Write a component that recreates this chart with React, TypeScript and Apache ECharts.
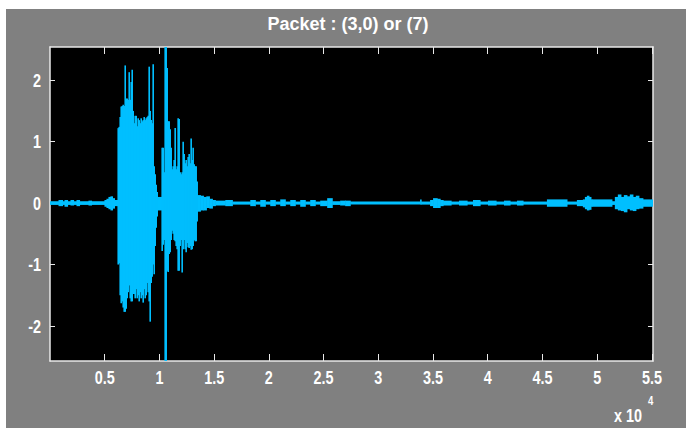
import React, { useEffect, useRef } from "react";
import * as echarts from "echarts";

// Envelope of the waveform: each bin starts at binStart[i] (sample index) and runs to the next bin start.
const binStart = [
  // lead-in noise
  0, 776, 1141, 1323, 1597, 1871, 2145, 2419, 2692, 3514,
  3788, 4974, 5157, 5339, 5522, 5704, 5887,
  // first burst
  6161, 6252, 6343, 6435, 6526, 6617, 6709, 6800, 6891, 6982,
  7074, 7165, 7256, 7348, 7439, 7530, 7622, 7713, 7804, 7896,
  7987, 8078, 8169, 8261, 8352, 8443, 8535, 8626, 8717, 8809,
  8900, 8991, 9083, 9174, 9265, 9356, 9448, 9539, 9630, 9722,
  9813,
  // second burst
  10178, 10270, 10361, 10452, 10544, 10635, 10726, 10818, 10909, 11000,
  11091, 11183, 11274, 11365, 11457, 11548, 11639, 11731, 11822, 11913,
  12005, 12096, 12187, 12278, 12370, 12461, 12552, 12644, 12735, 12826,
  12918, 13009, 13100, 13192, 13283, 13374, 13466,
  // tail noise
  13736, 14010, 14284, 14558, 14832, 15105, 16018, 16657, 18300, 18756,
  19212, 19669, 20125, 20582, 21038, 21494, 21951, 22407, 22863, 23320,
  23776, 24232, 24689, 25328, 25784, 26514, 26971, 27427, 33816, 33907,
  34729, 35003, 35368, 35642, 35915, 36645, 37375, 38105, 38653, 39292,
  40022, 40752, 41482, 42030, 42669, 43216, 45407, 47232,
  48145, 48692, 48875, 49057, 49240, 49423, 49514, 51339, 51613, 51887,
  52161, 52435, 52709, 52982, 53256, 53530, 53804, 54168,
];
const upperEnv = [
  0.03, 0.05, 0.03, 0.05, 0.03, 0.05, 0.03, 0.05, 0.03, 0.04,
  0.03, 0.05, 0.07, 0.10, 0.11, 0.08, 0.05,
  1.22, 1.24, 1.40, 1.57, 1.58, 1.60, 1.58, 2.24, 1.70, 1.70,
  1.68, 2.13, 1.68, 1.97, 2.17, 1.50, 1.30, 1.42, 1.42, 1.25,
  1.38, 1.35, 1.30, 1.38, 1.33, 1.35, 1.40, 1.35, 1.38, 1.40,
  1.42, 2.22, 1.50, 1.35, 1.30, 2.26, 0.60, 0.47, 0.30, 0.18,
  0.10,
  0.90, 0.90, 0.50, 2.54, 2.54, 2.20, 1.33, 1.33, 1.20, 0.90,
  0.55, 0.60, 0.70, 1.22, 0.55, 0.60, 1.38, 1.37, 0.50, 0.47,
  0.50, 1.00, 0.80, 0.65, 0.70, 0.60, 0.75, 0.80, 0.65, 1.05,
  0.70, 0.90, 0.63, 0.60, 0.60, 0.35, 0.13,
  0.12, 0.10, 0.11, 0.07, 0.05, 0.04, 0.05, 0.025, 0.05, 0.025,
  0.05, 0.025, 0.05, 0.025, 0.06, 0.025, 0.05, 0.025, 0.05, 0.025,
  0.05, 0.025, 0.04, 0.08, 0.03, 0.04, 0.04, 0.025, 0.06, 0.025,
  0.05, 0.08, 0.07, 0.05, 0.04, 0.025, 0.04, 0.025, 0.05, 0.025,
  0.04, 0.025, 0.04, 0.025, 0.04, 0.025, 0.06, 0.025,
  0.05, 0.06, 0.10, 0.12, 0.10, 0.06, 0.06, 0.03, 0.10, 0.14,
  0.10, 0.13, 0.11, 0.14, 0.10, 0.12, 0.08, 0.06,
];
const lowerEnv = [
  -0.03, -0.05, -0.03, -0.06, -0.03, -0.04, -0.03, -0.05, -0.03, -0.04,
  -0.03, -0.06, -0.08, -0.10, -0.12, -0.09, -0.05,
  -1.00, -0.98, -1.50, -1.63, -1.60, -1.70, -1.77, -1.77, -1.72, -1.55,
  -1.45, -1.34, -1.55, -1.60, -1.60, -1.48, -1.48, -1.55, -1.40, -1.55,
  -1.50, -1.60, -1.45, -1.55, -1.50, -1.62, -1.40, -1.55, -1.50, -1.30,
  -1.45, -1.60, -1.93, -1.30, -1.20, -1.00, -1.16, -0.70, -0.40, -0.22,
  -0.12,
  -0.78, -0.68, -0.60, -2.57, -2.57, -1.10, -1.12, -0.83, -0.80, -0.60,
  -0.45, -0.50, -0.60, -0.62, -0.70, -0.75, -1.10, -1.10, -0.70, -0.60,
  -1.13, -0.75, -0.60, -0.75, -0.80, -0.65, -0.72, -0.73, -0.70, -0.76,
  -0.75, -0.70, -0.60, -0.62, -0.62, -0.30, -0.14,
  -0.12, -0.12, -0.08, -0.09, -0.05, -0.04, -0.05, -0.025, -0.05, -0.025,
  -0.06, -0.025, -0.05, -0.025, -0.05, -0.025, -0.05, -0.025, -0.06, -0.025,
  -0.05, -0.025, -0.05, -0.08, -0.03, -0.04, -0.05, -0.025, -0.025, -0.025,
  -0.05, -0.08, -0.08, -0.05, -0.04, -0.025, -0.04, -0.025, -0.05, -0.025,
  -0.04, -0.025, -0.04, -0.025, -0.04, -0.025, -0.06, -0.025,
  -0.05, -0.07, -0.10, -0.12, -0.11, -0.06, -0.06, -0.03, -0.10, -0.12,
  -0.13, -0.15, -0.10, -0.12, -0.13, -0.10, -0.09, -0.06,
];

const xTicks = [5000, 10000, 15000, 20000, 25000, 30000, 35000, 40000, 45000, 50000, 55000];
const yTicks = [-2, -1, 0, 1, 2];
const X_MIN = 0;
const X_MAX = 55100;
const Y_MIN = -2.57;
const Y_MAX = 2.54;
const titleText = "Packet : (3,0) or (7)";
const expBase = "x 10";
const expPower = "4";

const FONT = "'Liberation Sans', Arial, sans-serif";
const WAVE = "#00bfff";
const AXIS = "#e8e8e8";
const NARROW = 0.8;

export default function App() {
  const ref = useRef<HTMLDivElement>(null);
  useEffect(() => {
    if (!ref.current) return;
    const chart = echarts.init(ref.current, null, { renderer: "svg" });
    const data = binStart.map((x, i) => [
      x,
      i + 1 < binStart.length ? binStart[i + 1] : X_MAX,
      lowerEnv[i],
      upperEnv[i],
    ]);
    const tickStyle = { inside: true, lineStyle: { color: AXIS, width: 1 } };
    const lineStyle = { show: true, onZero: false, lineStyle: { color: AXIS, width: 1.5 } };
    chart.setOption({
      animation: false,
      backgroundColor: "#808080",
      grid: {
        left: 44,
        top: 38,
        right: 33,
        bottom: 67,
        show: true,
        backgroundColor: "#000000",
        borderWidth: 0,
      },
      xAxis: [
        {
          type: "value",
          min: X_MIN,
          max: X_MAX,
          position: "bottom",
          axisLine: lineStyle,
          axisTick: { ...tickStyle, length: 7, customValues: xTicks },
          axisLabel: { show: false },
          splitLine: { show: false },
        },
        {
          type: "value",
          min: X_MIN,
          max: X_MAX,
          position: "top",
          axisLine: lineStyle,
          axisTick: { ...tickStyle, length: 7, customValues: xTicks },
          axisLabel: { show: false },
          splitLine: { show: false },
        },
      ],
      yAxis: [
        {
          type: "value",
          min: Y_MIN,
          max: Y_MAX,
          position: "left",
          axisLine: lineStyle,
          axisTick: { ...tickStyle, length: 5, customValues: yTicks },
          axisLabel: { show: false },
          splitLine: { show: false },
        },
        {
          type: "value",
          min: Y_MIN,
          max: Y_MAX,
          position: "right",
          axisLine: lineStyle,
          axisTick: { ...tickStyle, length: 5, customValues: yTicks },
          axisLabel: { show: false },
          splitLine: { show: false },
        },
      ],
      series: [
        {
          type: "custom",
          xAxisIndex: 0,
          yAxisIndex: 0,
          clip: true,
          encode: { x: [0, 1], y: [2, 3] },
          data,
          renderItem: (params: any, api: any) => {
            const x0 = api.value(0);
            const x1 = api.value(1);
            const lo = api.value(2);
            const hi = api.value(3);
            const p0 = api.coord([x0, hi]);
            const p1 = api.coord([x1, lo]);
            return {
              type: "rect",
              shape: {
                x: p0[0],
                y: p0[1],
                width: Math.max(p1[0] - p0[0], 1) + 0.6,
                height: Math.max(p1[1] - p0[1], 2.5),
              },
              style: { fill: WAVE },
            };
          },
        },
      ],
    });

    const textStyle = (text: string, size: number, align: string, vAlign: string) => ({
      text,
      fill: "#ffffff",
      fontSize: size,
      fontWeight: "bold",
      fontFamily: FONT,
      align,
      verticalAlign: vAlign,
    });
    const xLabelEls = xTicks.map((v) => ({
      type: "text",
      x: chart.convertToPixel({ xAxisIndex: 0 }, v) as number,
      y: 359,
      scaleX: NARROW,
      style: textStyle(String(v / 10000), 18, "center", "top"),
    }));
    const yLabelEls = yTicks.map((v) => ({
      type: "text",
      x: 35,
      y: chart.convertToPixel({ yAxisIndex: 0 }, v) as number,
      scaleX: NARROW,
      style: textStyle(String(v), 18, "right", "middle"),
    }));
    chart.setOption({
      graphic: [
        {
          type: "text",
          x: 342,
          y: 6,
          style: textStyle(titleText, 18, "center", "top"),
        },
        ...xLabelEls,
        ...yLabelEls,
        {
          type: "text",
          x: 608,
          y: 397,
          scaleX: NARROW,
          style: textStyle(expBase, 18, "left", "top"),
        },
        {
          type: "text",
          x: 642,
          y: 386,
          scaleX: NARROW,
          style: textStyle(expPower, 12, "left", "top"),
        },
      ],
    });
    return () => chart.dispose();
  }, []);
  return (
    <div
      ref={ref}
      style={{ position: "absolute", left: 6, top: 9, width: 680, height: 419 }}
    />
  );
}
